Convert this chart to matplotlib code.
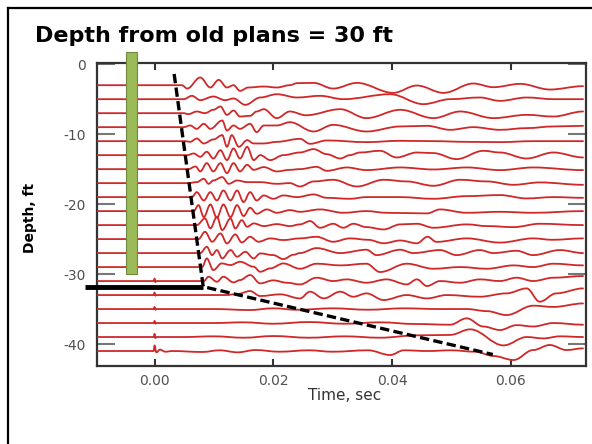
import matplotlib
matplotlib.use("Agg")
import matplotlib.pyplot as plt
from matplotlib.path import Path
from matplotlib.patches import PathPatch, Rectangle
from matplotlib.lines import Line2D

# ---------------- text ----------------
title_text = "Depth from old plans = 30 ft"
x_label = "Time, sec"
y_label = "Depth, ft"
x_ticks = [0.00, 0.02, 0.04, 0.06]
x_tick_labels = ["0.00", "0.02", "0.04", "0.06"]
y_ticks = [0, -10, -20, -30, -40]
y_tick_labels = ["0", "-10", "-20", "-30", "-40"]
x_limits = (-0.0097, 0.0727)
y_limits = (-43.1, 0.1)

# ---------------- traces: depth (ft) and (time ms, offset ft) readings ----------------
trace_depths = [-3, -5, -7, -9, -11, -13, -15, -17, -19, -21,
                -23, -25, -27, -29, -31, -33, -35, -37, -39, -41]

trace_01 = [(4.6, 0), (5.5, -0.48), (7.7, 1.1), (9.4, -0.33), (10.8, 0.76), (12.2, -0.33), (13.3, 0),
            (14.4, -0.81), (15.8, -0.33), (18.4, -0.19), (20.6, -0.33), (22.8, 0), (24.0, 0.29), (26.8, 0.33),
            (30.1, -0.48), (34.1, 0.33), (40.2, -1.1), (44.2, -0.05), (48.7, -1.1), (53.7, 0.24), (57.1, -0.29),
            (61.6, 0.19), (66.6, -0.62), (72.2, -0.14)]
trace_02 = [(4.9, 0), (6.3, 0.48), (7.7, -0.14), (9.9, 0.38), (11.9, -0.14), (13.3, 0.1), (15.3, -0.81),
            (17.8, 0.24), (20.6, 0.71), (24.0, 0.24), (27.9, 0.48), (31.8, 0), (39.7, 0.71), (45.3, -0.71),
            (49.8, 0), (54.8, 0.24), (58.2, -0.24), (62.7, 0.24), (67.2, 0), (72.2, 0)]
trace_03 = [(4.9, 0), (5.7, -0.14), (7.1, 0.24), (8.5, 0), (9.9, 0.48), (11.1, 0.95), (12.2, -0.24),
            (13.3, 0.38), (14.4, -0.48), (16.1, -0.38), (17.2, 0.24), (18.4, 0.57), (20.6, -0.71), (22.8, 0.24),
            (25.5, -0.3), (31.3, 0.57), (35.7, -0.71), (41.4, 0.48), (47.0, -0.71), (51.5, 0.24), (57.1, -0.71),
            (62.7, -0.24), (67.2, -0.48), (72.2, 0.24)]
trace_04 = [(4.9, 0), (6.0, 0.24), (7.1, -0.24), (8.3, 0.48), (9.4, -0.24), (11.4, 0.95), (12.2, -0.48),
            (13.3, 0.24), (14.4, -0.24), (16.1, 0.48), (17.2, -0.71), (18.4, 0.24), (20.6, 0.24), (22.8, 0.71),
            (26.8, -0.62), (30.1, 0.33), (35.7, -0.62), (41.4, 0.1), (45.9, 0.19), (49.8, -0.38), (53.7, 0),
            (58.2, -0.38), (62.7, -0.14), (67.2, 0.1), (72.2, 0.19)]
trace_05 = [(5.2, 0), (6.0, -0.1), (7.1, 0.38), (8.3, -0.33), (9.9, 0.24), (11.4, 0.86), (12.2, -0.81),
            (13.0, 0.86), (14.2, -0.81), (15.6, 0.14), (16.7, -0.33), (18.4, -0.33), (20.6, -0.1), (24.5, 0.33),
            (26.2, -0.38), (29.0, 0.1), (35.7, -0.14), (41.4, 0.05), (47.0, 0), (52.6, -0.1), (58.2, -0.14),
            (63.8, 0), (72.2, 0)]
trace_06 = [(5.5, 0), (6.6, 0.24), (7.7, -0.24), (8.8, 0.48), (9.9, -0.48), (11.1, 0.71), (12.2, -0.71),
            (13.3, 0.95), (14.4, -0.48), (15.6, 1.19), (16.7, -0.71), (17.8, 0), (19.5, -0.71), (21.7, 0),
            (24.5, 0.38), (26.8, 0.86), (29.0, 0.14), (31.3, -0.48), (32.9, 0), (34.6, 0.38), (38.0, 0.62),
            (40.8, -0.33), (44.2, 0.38), (47.0, 0.29), (50.9, -0.57), (55.4, 0.62), (58.2, 0.38), (62.7, -0.48),
            (67.2, 0.38), (72.2, -0.33)]
trace_07 = [(5.7, 0), (6.9, 0.38), (7.7, -0.33), (8.8, 0.86), (9.9, -0.33), (11.1, 0.86), (12.2, -0.57),
            (13.3, 0.86), (14.4, -0.33), (15.6, 0.62), (16.7, -0.1), (18.4, 0.29), (20.6, -0.33), (22.8, -0.1),
            (24.5, 0), (27.3, 0.33), (29.0, -0.24), (32.4, 0.24), (35.7, -0.14), (41.4, 0.24), (47.0, -0.05),
            (52.6, 0.24), (58.2, -0.14), (63.8, 0.24), (72.2, -0.14)]
trace_08 = [(5.7, 0), (7.1, 0.14), (8.3, 0.62), (9.1, -0.1), (9.9, 0.38), (11.4, 0.86), (12.5, -0.1),
            (13.9, 0.38), (15.6, 0.14), (17.8, 0.14), (20.6, -0.1), (22.8, 0), (24.5, -0.48), (26.8, 0.24),
            (30.1, 0.48), (34.1, -0.48), (38.6, 0.48), (42.5, 0.24), (47.0, -0.38), (51.5, 0.48), (56.0, 0.24),
            (60.5, -0.24), (64.9, 0.1), (72.2, -0.24)]
trace_09 = [(6.3, 0), (7.1, 0.71), (8.3, -0.48), (9.4, 0.71), (10.5, -0.48), (11.6, 0.95), (12.8, -0.48),
            (13.9, 0.95), (15.0, -0.71), (16.1, 0.71), (17.2, -0.48), (18.4, 0.24), (20.0, -0.24), (21.7, 0.24),
            (24.0, 0), (26.8, 0.38), (29.0, -0.1), (32.9, -0.24), (35.7, 0), (41.4, 0), (47.0, -0.24),
            (52.6, 0.14), (58.2, 0.29), (62.7, -0.19), (67.2, 0), (72.2, -0.1)]
trace_10 = [(6.6, 0), (7.4, 0.86), (8.3, -0.86), (9.4, 0.95), (10.5, -0.95), (11.6, 0.95), (12.8, -0.86),
            (13.9, 0.86), (15.0, -0.71), (16.1, 0.48), (17.2, -0.38), (18.9, 0.24), (20.6, -0.24), (22.8, 0.14),
            (24.5, -0.1), (27.9, 0.24), (31.8, -0.24), (35.7, 0), (39.1, -0.24), (45.9, -0.33), (48.1, 0.24),
            (52.6, -0.24), (58.2, -0.1), (63.8, -0.24), (72.2, 0)]
trace_11 = [(7.1, 0), (8.5, 0.95), (9.4, -0.48), (10.5, 1.19), (11.4, -0.71), (12.8, 0.95), (13.6, -0.48),
            (14.7, 0.71), (15.6, -0.24), (16.7, 0.24), (18.4, -0.14), (20.6, 0.14), (22.8, -0.14), (24.5, 0.1),
            (26.2, 0.57), (27.9, -0.38), (30.1, 0.19), (31.8, -0.38), (33.5, 0.19), (35.7, -0.29), (38.6, -0.62),
            (41.4, 0.1), (44.2, 0.19), (47.0, -0.38), (52.6, 0.1), (56.0, -0.14), (60.5, -0.29), (64.9, 0.19),
            (72.2, 0)]
trace_12 = [(7.4, 0), (8.5, 1.05), (9.7, -0.38), (11.1, 0.81), (12.2, -0.62), (13.6, 0.67), (14.7, -0.48),
            (16.1, 0.33), (17.5, -0.38), (19.5, 0.1), (21.7, -0.14), (24.5, 0.1), (27.3, 0.33), (30.1, -0.38),
            (32.9, 0.1), (36.0, -0.1), (38.6, -0.6), (41.4, -0.2), (44.2, -0.6), (46.0, 0.33), (47.5, -0.4),
            (52.6, 0.1), (58.2, -0.5), (63.8, 0.1), (67.0, -0.1), (72.2, 0.1)]
trace_13 = [(7.7, 0), (8.8, 0.9), (9.7, -0.29), (10.5, 0.43), (11.4, -0.76), (12.8, 0.43), (13.9, -0.52),
            (15.3, 0.19), (16.7, -0.76), (17.8, -0.05), (20.0, -0.29), (21.7, -0.86), (23.4, -0.24), (24.5, 0),
            (27.3, 0.71), (31.3, 0), (35.7, 0.48), (37.4, -0.29), (41.4, 0.48), (43.6, 0), (48.1, 0.43),
            (50.9, -0.29), (54.8, 0.43), (57.1, 0), (61.0, 0.33), (63.8, -0.29), (68.3, 0.43), (72.2, 0)]
trace_14 = [(8.0, 0), (8.8, 1.24), (9.9, -0.43), (11.3, 0.52), (12.8, 0.29), (14.4, 0.76), (16.7, 0.05),
            (17.8, -0.67), (19.5, -0.19), (21.7, 0.52), (24.5, -0.24), (27.3, 0.48), (31.3, 0.24), (35.7, 0.48),
            (38.0, -0.71), (42.5, 0.48), (47.0, -0.24), (51.5, 0), (56.0, -0.24), (60.5, 0.24), (63.8, 0),
            (67.2, 0.48), (72.2, 0.24)]
trace_15 = [(-0.15, 0), (0.0, 0.35), (0.15, -0.15), (0.3, 0), (8.3, 0), (9.1, 0.62), (10.5, -0.1), (11.6, 0.62),
            (13.3, -0.19), (14.4, 0.14), (16.1, 0.86), (17.8, -0.33), (20.0, 0.1), (22.3, -0.24), (24.5, -0.48),
            (27.3, 0.48), (30.1, 0), (32.4, 0.24), (35.7, -0.24), (39.1, 0.24), (42.5, -0.48), (44.2, 0.24),
            (45.9, -0.71), (48.1, 0), (51.5, -0.24), (54.8, 0.24), (58.2, 0), (61.0, 0.48), (63.8, 0),
            (67.2, 0.48), (72.2, 0.71)]
trace_16 = [(-0.15, 0), (0.0, 0.35), (0.15, -0.1), (0.3, 0), (12.0, 0), (13.9, 0.14), (16.1, 0.57), (17.8, -0.14),
            (21.2, 0.1), (24.5, -0.48), (26.2, 0.48), (28.5, -0.48), (31.3, 0.48), (33.5, -0.24), (35.7, 0.24),
            (38.6, -0.71), (42.5, 0), (45.9, -0.48), (49.2, 0), (54.8, -0.24), (59.3, 0.24), (62.7, 0.95),
            (64.9, -0.95), (67.7, 0.24), (72.2, 0.95)]
trace_17 = [(-0.15, 0), (0.0, 0.3), (0.15, -0.1), (0.3, 0), (10.0, 0), (16.0, -0.14), (20.0, 0.1), (24.0, -0.1),
            (30.0, 0.1), (36.0, -0.1), (42.0, 0.1), (48.0, 0), (52.6, 0), (56.0, -0.3), (59.3, -0.86),
            (63.8, 0.48), (67.2, 0.3), (72.2, 0.8)]
trace_18 = [(-0.15, 0), (0.0, 0.3), (0.15, -0.1), (0.3, 0), (10.0, 0), (15.0, 0.1), (20.0, -0.1), (26.0, 0.14),
            (32.0, -0.1), (38.0, 0.1), (44.0, -0.14), (49.8, -0.24), (52.6, 0.67), (55.4, -0.5), (58.2, -1.0),
            (61.0, -0.3), (63.8, -0.5), (67.2, 0), (72.2, -0.24)]
trace_19 = [(-0.15, 0), (0.0, 0.45), (0.15, -0.15), (0.3, 0), (5.0, 0), (10.0, 0.1), (15.0, -0.1), (20.0, 0.14),
            (26.0, -0.1), (32.0, 0.1), (38.0, -0.1), (44.2, 0.24), (49.8, 0.3), (53.2, 1.1), (58.8, -1.2),
            (62.7, 0), (65.5, -0.2), (68.3, 0.1), (72.2, 0)]
trace_20 = [(-0.15, 0), (0.0, 0.8), (0.3, -0.2), (0.9, 0.2), (1.8, -0.1), (3.0, 0), (8.0, -0.14), (11.0, 0.1),
            (14.0, -0.19), (17.0, 0.14), (21.0, -0.1), (26.0, 0.1), (30.0, -0.1), (36.0, 0.1), (39.7, -0.57),
            (42.0, 0.1), (46.0, 0), (50.0, 0.1), (54.0, -0.1), (57.1, -0.71), (60.5, -1.29), (63.8, 0.14),
            (66.6, 0.86), (69.4, 0.14), (72.2, 0.38)]

traces = [trace_01, trace_02, trace_03, trace_04, trace_05, trace_06, trace_07, trace_08, trace_09, trace_10,
          trace_11, trace_12, trace_13, trace_14, trace_15, trace_16, trace_17, trace_18, trace_19, trace_20]

# ---------------- annotations ----------------
old_plan_bar_time = (-0.00477, -0.00291)
old_plan_bar_depth = (-30.0, 1.75)
measured_depth = -31.8
measured_line_time = (-0.0117, 0.0082)
arrival_line_time = [0.0033, 0.0082, 0.0570]
arrival_line_depth = [-1.4, -31.8, -41.5]

trace_color = "#d02828"

# ---------------- figure ----------------
fig = plt.figure(figsize=(5.92, 4.44), dpi=100, facecolor="white")
ax = fig.add_axes([97 / 592, 1 - 365.7 / 444, (586 - 97) / 592, (365.7 - 63.5) / 444])
ax.set_xlim(*x_limits)
ax.set_ylim(*y_limits)

k = 0.36
for depth, tr in zip(trace_depths, traces):
    pts = [(x_limits[0] * 1000, 0.0)] + list(tr)
    verts = [(pts[0][0] / 1000, depth + pts[0][1])]
    codes = [Path.MOVETO]
    for (t0, a0), (t1, a1) in zip(pts[:-1], pts[1:]):
        dt = t1 - t0
        verts += [((t0 + k * dt) / 1000, depth + a0),
                  ((t1 - k * dt) / 1000, depth + a1),
                  (t1 / 1000, depth + a1)]
        codes += [Path.CURVE4] * 3
    ax.add_patch(PathPatch(Path(verts, codes), fill=False, edgecolor=trace_color,
                           lw=1.3, joinstyle="round", capstyle="round", zorder=3))

# old-plans bar
ax.add_patch(Rectangle((old_plan_bar_time[0], old_plan_bar_depth[0]),
                       old_plan_bar_time[1] - old_plan_bar_time[0],
                       old_plan_bar_depth[1] - old_plan_bar_depth[0],
                       facecolor="#9bbb59", edgecolor="#71893f", lw=0.8, clip_on=False, zorder=5))
# measured depth line
ax.plot(measured_line_time, [measured_depth, measured_depth], color="black", lw=3.5,
        solid_capstyle="butt", clip_on=False, zorder=6)
# first-arrival dashed line
ax.plot(arrival_line_time, arrival_line_depth, color="black", lw=2.4, linestyle=(0, (2.8, 1.3)),
        dash_joinstyle="miter", clip_on=False, zorder=6)

for s in ["left", "right", "top", "bottom"]:
    ax.spines[s].set_color("#333333")
    ax.spines[s].set_linewidth(1.6)

ax.set_xticks(x_ticks)
ax.set_xticklabels(x_tick_labels)
ax.set_yticks(y_ticks)
ax.set_yticklabels(y_tick_labels)
ax.tick_params(axis="x", direction="in", length=5, width=1.5, color="#333333",
               top=True, bottom=True, labelsize=10, labelcolor="#505050", pad=6)
ax.tick_params(axis="y", direction="in", length=13, width=1.5, color="#777777",
               left=True, right=True, labelsize=10, labelcolor="#505050", pad=8)
for lab in ax.get_xticklabels() + ax.get_yticklabels():
    lab.set_family(["DejaVu Sans"])

ax.set_xlabel(x_label, fontsize=11, color="#333333", family=["DejaVu Sans"])
ax.xaxis.set_label_coords((345 - 97) / 489, (365.7 - 388) / 302.2)
ax.set_ylabel(y_label, fontsize=10, fontweight="bold", color="black",
              family=["DejaVu Sans"], va="center")
ax.yaxis.set_label_coords((30 - 97) / 489, 0.49)

fig.text(35 / 592, 1 - 42 / 444, title_text, fontsize=16, fontweight="bold",
         family=["DejaVu Sans"], ha="left", va="baseline", color="black")

# slide frame
fig.add_artist(Line2D([8 / 592, 8 / 592], [0, 1 - 8 / 444], transform=fig.transFigure,
                      color="black", lw=1.6))
fig.add_artist(Line2D([8 / 592, 1], [1 - 8 / 444, 1 - 8 / 444], transform=fig.transFigure,
                      color="black", lw=1.6))

fig.savefig("out.png", dpi=100, facecolor="white")
